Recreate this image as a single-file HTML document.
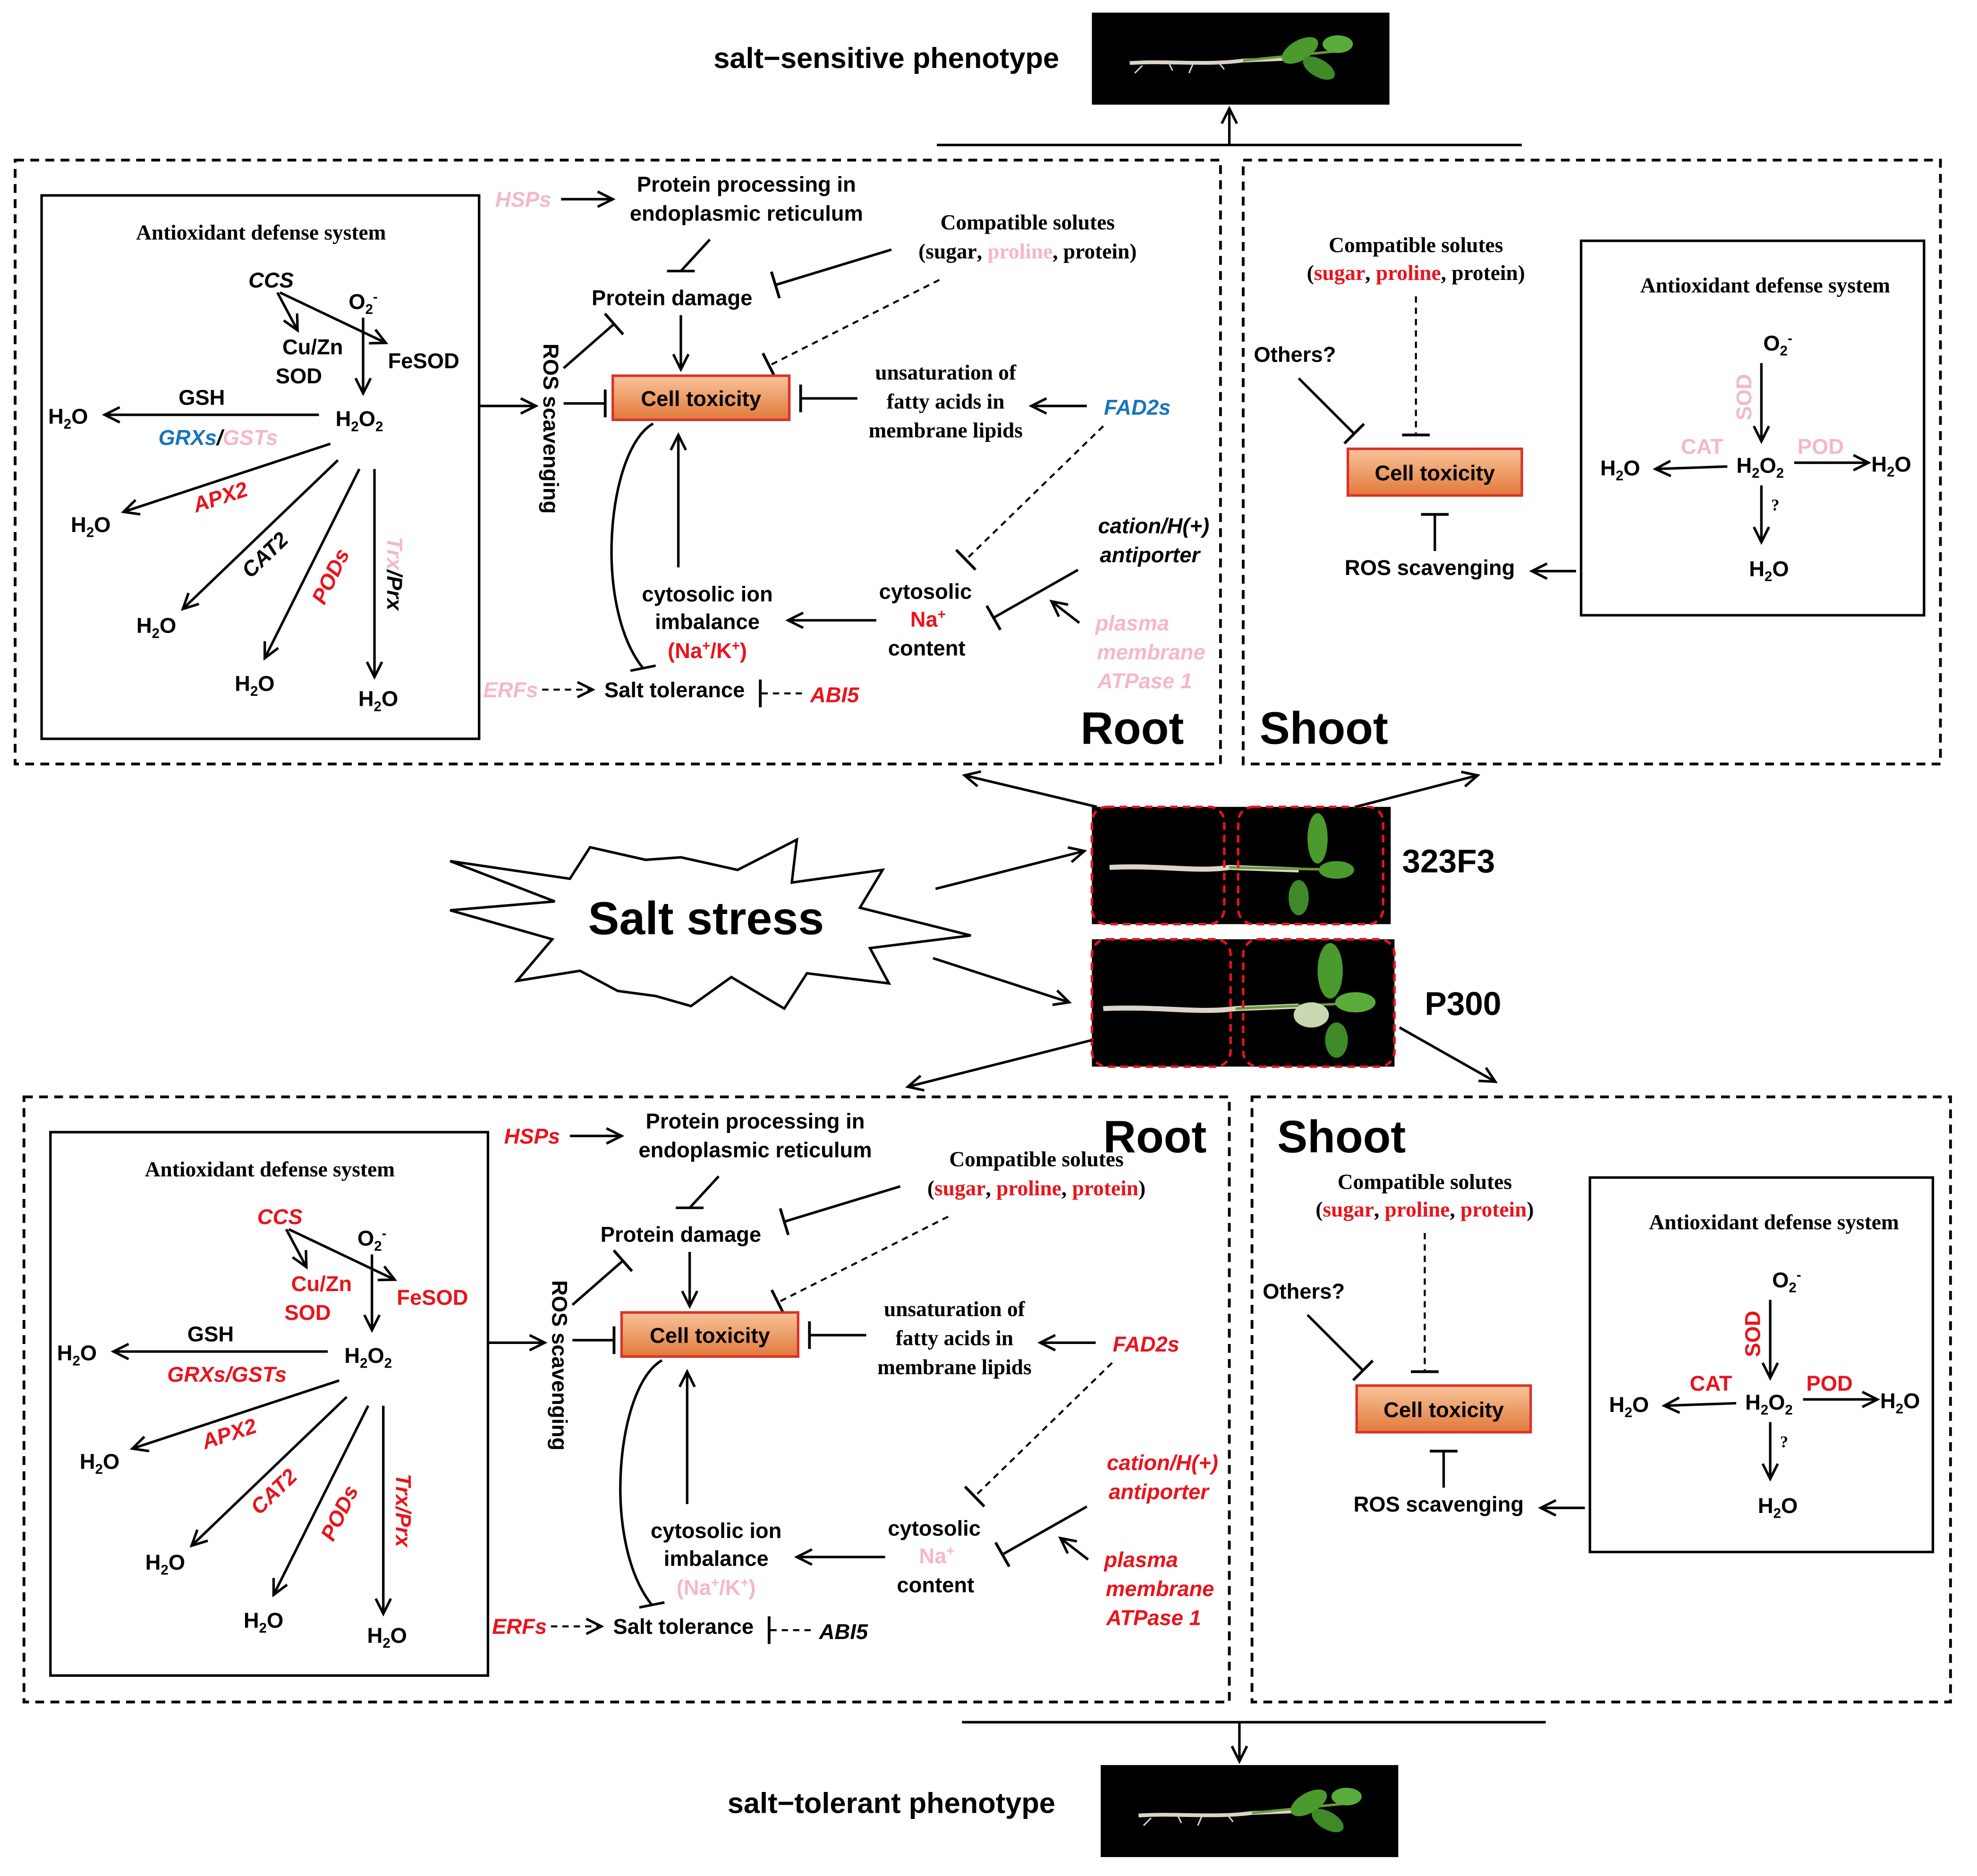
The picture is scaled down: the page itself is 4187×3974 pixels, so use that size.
<!DOCTYPE html>
<html><head><meta charset="utf-8"><style>
html,body{margin:0;padding:0;background:#fff}
svg{display:block}
.b{font-family:"Liberation Sans",sans-serif;font-weight:bold;font-size:17px}
.bi{font-family:"Liberation Sans",sans-serif;font-weight:bold;font-style:italic;font-size:17px}
.s{font-family:"Liberation Serif",serif;font-size:17px}
.sb{font-family:"Liberation Serif",serif;font-weight:bold;font-size:17px}
.ln{stroke:#000;stroke-width:2;fill:none}
.dl{stroke:#000;stroke-width:1.6;fill:none;stroke-dasharray:5,4}
.box{fill:none;stroke:#000;stroke-width:2}
.dbox{fill:none;stroke:#000;stroke-width:2.2;stroke-dasharray:7,5}
</style></head><body>
<svg width="4187" height="3974" viewBox="0 0 1568 1488" preserveAspectRatio="none" xmlns="http://www.w3.org/2000/svg">
<defs>
<marker id="a" markerUnits="userSpaceOnUse" markerWidth="16" markerHeight="16" refX="14" refY="8" orient="auto"><path d="M2,2 L14,8 L2,14" fill="none" stroke="#000" stroke-width="2"/></marker>
<marker id="t" markerUnits="userSpaceOnUse" markerWidth="4" markerHeight="22" refX="2" refY="11" orient="auto"><path d="M2,0 L2,22" stroke="#000" stroke-width="2.2"/></marker>
<linearGradient id="og" x1="0" y1="0" x2="0" y2="1"><stop offset="0" stop-color="#f8c49a"/><stop offset="1" stop-color="#e2793a"/></linearGradient>
<g id="plant">
<rect x="0" y="0" width="236" height="73" fill="#000"/>
<path d="M30,40 C60,38 90,42 120,38 L170,36" stroke="#ddd4c8" stroke-width="3" fill="none"/>
<path d="M40,42 l-6,6 M60,38 l4,8 M80,41 l-3,7 M100,39 l5,6" stroke="#ccc" stroke-width="1.2"/>
<path d="M120,38 L200,30" stroke="#6a9a3a" stroke-width="2"/>
<ellipse cx="165" cy="30" rx="16" ry="8" fill="#4a9a2e" transform="rotate(-30 165 30)"/>
<ellipse cx="180" cy="44" rx="14" ry="7" fill="#3e8a28" transform="rotate(30 180 44)"/>
<ellipse cx="195" cy="25" rx="12" ry="7" fill="#5aac3a"/>
</g>
<g id="panel">
<rect x="33" y="155" width="347" height="431" class="box"/>
<text x="207" y="190" class="sb" text-anchor="middle">Antioxidant defense system</text>
<text x="215" y="228" class="bi" text-anchor="middle" style="fill:var(--ccs)">CCS</text>
<text x="288" y="245" class="b" text-anchor="middle">O<tspan style="font-size:11px" dy="4">2</tspan><tspan style="font-size:11px" dy="-10">-</tspan></text>
<path d="M220,232 L236,262" class="ln" marker-end="url(#a)"/>
<path d="M222,232 L306,272" class="ln" marker-end="url(#a)"/>
<path d="M288,252 L288,312" class="ln" marker-end="url(#a)"/>
<text x="248" y="281" class="b" text-anchor="middle" style="fill:var(--sod)">Cu/Zn</text>
<text x="237" y="304" class="b" text-anchor="middle" style="fill:var(--sod)">SOD</text>
<text x="336" y="292" class="b" text-anchor="middle" style="fill:var(--fesod)">FeSOD</text>
<text x="285" y="338" class="b" text-anchor="middle">H<tspan style="font-size:11px" dy="4">2</tspan><tspan dy="-4">O</tspan><tspan style="font-size:11px" dy="4">2</tspan></text>
<text x="160" y="321" class="b" text-anchor="middle">GSH</text>
<path d="M253,329 L83,329" class="ln" marker-end="url(#a)"/>
<text x="54" y="336" class="b" text-anchor="middle">H<tspan style="font-size:11px" dy="4">2</tspan><tspan dy="-4">O</tspan></text>
<text x="173" y="353" class="bi" text-anchor="middle"><tspan style="fill:var(--grx)">GRXs</tspan><tspan style="fill:var(--sl)">/</tspan><tspan style="fill:var(--gst)">GSTs</tspan></text>
<path d="M262,352 L98,406" class="ln" marker-end="url(#a)"/>
<text x="175" y="400" class="bi" text-anchor="middle" fill="#e8141c" transform="rotate(-18 175 395)">APX2</text>
<text x="72" y="422" class="b" text-anchor="middle">H<tspan style="font-size:11px" dy="4">2</tspan><tspan dy="-4">O</tspan></text>
<path d="M268,365 L145,483" class="ln" marker-end="url(#a)"/>
<text x="210" y="446" class="bi" text-anchor="middle" style="fill:var(--cat2)" transform="rotate(-44 210 440)">CAT2</text>
<text x="124" y="502" class="b" text-anchor="middle">H<tspan style="font-size:11px" dy="4">2</tspan><tspan dy="-4">O</tspan></text>
<path d="M285,372 L210,522" class="ln" marker-end="url(#a)"/>
<text x="262" y="463" class="bi" text-anchor="middle" fill="#e8141c" transform="rotate(-64 262 457)">PODs</text>
<text x="202" y="548" class="b" text-anchor="middle">H<tspan style="font-size:11px" dy="4">2</tspan><tspan dy="-4">O</tspan></text>
<path d="M297,372 L297,537" class="ln" marker-end="url(#a)"/>
<text x="313" y="461" class="bi" text-anchor="middle" transform="rotate(90 313 455)"><tspan style="fill:var(--trx)">Trx</tspan><tspan style="fill:var(--prx)">/Prx</tspan></text>
<text x="300" y="560" class="b" text-anchor="middle">H<tspan style="font-size:11px" dy="4">2</tspan><tspan dy="-4">O</tspan></text>
<path d="M380,322 L425,322" class="ln" marker-end="url(#a)"/>
<text x="431" y="340" class="b" text-anchor="middle" transform="rotate(90 431 340)">ROS scavenging</text>
<path d="M447,292 L487,257" class="ln" marker-end="url(#t)"/>
<path d="M447,320 L480,320" class="ln" marker-end="url(#t)"/>
<text x="415" y="164" class="bi" text-anchor="middle" style="fill:var(--hsp)">HSPs</text>
<path d="M445,158 L486,158" class="ln" marker-end="url(#a)"/>
<text x="592" y="152" class="b" text-anchor="middle">Protein processing in</text>
<text x="592" y="175" class="b" text-anchor="middle">endoplasmic reticulum</text>
<path d="M563,190 L540,215" class="ln"/><path d="M529,215 L551,215" class="ln"/>
<text x="533" y="242" class="b" text-anchor="middle">Protein damage</text>
<text x="815" y="182" class="sb" text-anchor="middle">Compatible solutes</text>
<text x="815" y="205" class="sb" text-anchor="middle">(<tspan style="fill:var(--rsug)">sugar</tspan>, <tspan style="fill:var(--rpro)">proline</tspan>, <tspan style="fill:var(--rprot)">protein</tspan>)</text>
<path d="M707,198 L615,226" class="ln" marker-end="url(#t)"/>
<path d="M745,222 L610,290" class="dl" marker-end="url(#t)"/>
<path d="M540,250 L540,293" class="ln" marker-end="url(#a)"/>
<rect x="486" y="298" width="140" height="35" fill="url(#og)" stroke="#d8322a" stroke-width="2"/>
<text x="556" y="322" class="b" text-anchor="middle">Cell toxicity</text>
<text x="750" y="301" class="sb" text-anchor="middle">unsaturation of</text>
<text x="750" y="324" class="sb" text-anchor="middle">fatty acids in</text>
<text x="750" y="347" class="sb" text-anchor="middle">membrane lipids</text>
<path d="M680,316 L635,316" class="ln" marker-end="url(#t)"/>
<path d="M862,322 L818,322" class="ln" marker-end="url(#a)"/>
<text x="902" y="329" class="bi" text-anchor="middle" style="fill:var(--fad)">FAD2s</text>
<path d="M875,338 L766,444" class="dl" marker-end="url(#t)"/>
<text x="915" y="423" class="bi" text-anchor="middle" style="fill:var(--cat)">cation/H(+)</text>
<text x="912" y="446" class="bi" text-anchor="middle" style="fill:var(--cat)">antiporter</text>
<path d="M855,452 L788,490" class="ln" marker-end="url(#t)"/>
<path d="M856,494 L834,477" class="ln" marker-end="url(#a)"/>
<text x="898" y="500" class="bi" text-anchor="middle" style="fill:var(--pm)">plasma</text>
<text x="913" y="523" class="bi" text-anchor="middle" style="fill:var(--pm)">membrane</text>
<text x="908" y="546" class="bi" text-anchor="middle" style="fill:var(--pm)">ATPase 1</text>
<text x="734" y="475" class="b" text-anchor="middle">cytosolic</text>
<text x="736" y="497" class="b" text-anchor="middle" style="fill:var(--na)">Na<tspan style="font-size:11px" dy="-6">+</tspan></text>
<text x="735" y="520" class="b" text-anchor="middle">content</text>
<path d="M695,492 L625,492" class="ln" marker-end="url(#a)"/>
<text x="561" y="477" class="b" text-anchor="middle">cytosolic ion</text>
<text x="561" y="499" class="b" text-anchor="middle">imbalance</text>
<text x="561" y="522" class="b" text-anchor="middle" style="fill:var(--nak)">(Na<tspan style="font-size:11px" dy="-6">+</tspan><tspan dy="6">/K</tspan><tspan style="font-size:11px" dy="-6">+</tspan><tspan dy="6">)</tspan></text>
<path d="M538,450 L538,345" class="ln" marker-end="url(#a)"/>
<path d="M518,336 C482,356 470,480 510,530" class="ln"/><path d="M500,532 L520,528" class="ln"/>
<text x="405" y="553" class="bi" text-anchor="middle" style="fill:var(--erf)">ERFs</text>
<path d="M430,547 L470,547" class="dl" marker-end="url(#a)"/>
<text x="535" y="553" class="b" text-anchor="middle">Salt tolerance</text>
<path d="M636,550 L603,550" class="dl" marker-end="url(#t)"/>
<text x="662" y="557" class="bi" text-anchor="middle" style="fill:var(--abi)">ABI5</text>
<text x="1123" y="200" class="sb" text-anchor="middle">Compatible solutes</text>
<text x="1123" y="222" class="sb" text-anchor="middle">(<tspan fill="#e8141c">sugar</tspan>, <tspan fill="#e8141c">proline</tspan>, <tspan style="fill:var(--sprot)">protein</tspan>)</text>
<path d="M1123,235 L1123,345" class="dl" marker-end="url(#t)"/>
<text x="1027" y="287" class="b" text-anchor="middle">Others?</text>
<path d="M1030,300 L1074,344" class="ln" marker-end="url(#t)"/>
<rect x="1069" y="356" width="138" height="37" fill="url(#og)" stroke="#d8322a" stroke-width="2"/>
<text x="1138" y="381" class="b" text-anchor="middle">Cell toxicity</text>
<path d="M1138,437 L1138,408" class="ln" marker-end="url(#t)"/>
<text x="1134" y="456" class="b" text-anchor="middle">ROS scavenging</text>
<path d="M1250,453 L1215,453" class="ln" marker-end="url(#a)"/>
<rect x="1254" y="191" width="272" height="297" class="box"/>
<text x="1400" y="232" class="sb" text-anchor="middle">Antioxidant defense system</text>
<text x="1410" y="278" class="b" text-anchor="middle">O<tspan style="font-size:11px" dy="4">2</tspan><tspan style="font-size:11px" dy="-10">-</tspan></text>
<path d="M1397,288 L1397,350" class="ln" marker-end="url(#a)"/>
<text x="1383" y="321" class="b" text-anchor="middle" style="fill:var(--ssod)" transform="rotate(-90 1383 315)">SOD</text>
<text x="1396" y="375" class="b" text-anchor="middle">H<tspan style="font-size:11px" dy="4">2</tspan><tspan dy="-4">O</tspan><tspan style="font-size:11px" dy="4">2</tspan></text>
<text x="1350" y="360" class="b" text-anchor="middle" style="fill:var(--ssod)">CAT</text>
<path d="M1370,370 L1313,372" class="ln" marker-end="url(#a)"/>
<text x="1285" y="377" class="b" text-anchor="middle">H<tspan style="font-size:11px" dy="4">2</tspan><tspan dy="-4">O</tspan></text>
<text x="1444" y="360" class="b" text-anchor="middle" style="fill:var(--ssod)">POD</text>
<path d="M1423,367 L1482,367" class="ln" marker-end="url(#a)"/>
<text x="1500" y="374" class="b" text-anchor="middle">H<tspan style="font-size:11px" dy="4">2</tspan><tspan dy="-4">O</tspan></text>
<path d="M1397,385 L1397,430" class="ln" marker-end="url(#a)"/>
<text x="1408" y="405" class="sb" style="font-size:13px" text-anchor="middle">?</text>
<text x="1403" y="457" class="b" text-anchor="middle">H<tspan style="font-size:11px" dy="4">2</tspan><tspan dy="-4">O</tspan></text>
</g>
</defs>

<text x="703" y="54" class="b" style="font-size:23px" text-anchor="middle">salt−sensitive phenotype</text>
<use href="#plant" x="866" y="10"/>
<path d="M743,115 L1207,115" class="ln"/>
<path d="M975,115 L975,86" class="ln" marker-end="url(#a)"/>
<rect x="12" y="127" width="956" height="479" class="dbox"/>
<rect x="986" y="127" width="553" height="479" class="dbox"/>
<use href="#panel" style="--ccs:#000;--sod:#000;--fesod:#000;--grx:#1a75bb;--sl:#000;--gst:#f4b8c8;--cat2:#000;--trx:#f4b8c8;--prx:#000;--hsp:#f4b8c8;--rsug:#000;--rpro:#f4b8c8;--rprot:#000;--fad:#1a75bb;--cat:#000;--pm:#f4b8c8;--na:#e8141c;--nak:#e8141c;--erf:#f4b8c8;--abi:#e8141c;--sprot:#000;--ssod:#f4b8c8"/>
<text x="898" y="590" class="b" style="font-size:36px" text-anchor="middle">Root</text>
<text x="1050" y="590" class="b" style="font-size:36px" text-anchor="middle">Shoot</text>

<polygon points="357,683 452,697 468,672 512,682 540,680 585,690 632,666 628,700 700,690 682,720 770,742 690,752 705,780 640,772 622,800 580,775 548,798 520,790 490,786 460,770 410,778 438,745 357,722 440,715" fill="#fff" stroke="#000" stroke-width="2"/>
<text x="560" y="741" class="b" style="font-size:37px" text-anchor="middle">Salt stress</text>
<rect x="866" y="640" width="237" height="93" fill="#000"/>
<path d="M880,688 C920,686 950,692 975,688 L1030,690" stroke="#ddd4c8" stroke-width="4" fill="none"/>
<path d="M975,688 L1070,690" stroke="#6a9a3a" stroke-width="2"/>
<ellipse cx="1045" cy="665" rx="8" ry="20" fill="#4a9a2e"/>
<ellipse cx="1060" cy="690" rx="14" ry="7" fill="#4a9a2e"/>
<ellipse cx="1030" cy="712" rx="8" ry="14" fill="#3e8a28"/>
<rect x="866" y="640" width="105" height="93" rx="12" fill="none" stroke="#e8141c" stroke-width="2" stroke-dasharray="6,4"/>
<rect x="982" y="640" width="115" height="93" rx="12" fill="none" stroke="#e8141c" stroke-width="2" stroke-dasharray="6,4"/>
<text x="1112" y="692" class="b" style="font-size:26px">323F3</text>
<rect x="866" y="745" width="240" height="101" fill="#000"/>
<path d="M875,800 C920,798 950,804 980,800 L1030,798" stroke="#ddd4c8" stroke-width="4" fill="none"/>
<path d="M980,800 L1090,795" stroke="#6a9a3a" stroke-width="2"/>
<ellipse cx="1055" cy="770" rx="10" ry="22" fill="#4a9a2e"/>
<ellipse cx="1075" cy="795" rx="16" ry="8" fill="#5aac3a"/>
<ellipse cx="1040" cy="805" rx="14" ry="10" fill="#c8d8b0"/>
<ellipse cx="1060" cy="825" rx="9" ry="14" fill="#3e8a28"/>
<rect x="866" y="745" width="110" height="101" rx="12" fill="none" stroke="#e8141c" stroke-width="2" stroke-dasharray="6,4"/>
<rect x="986" y="745" width="120" height="101" rx="12" fill="none" stroke="#e8141c" stroke-width="2" stroke-dasharray="6,4"/>
<text x="1130" y="805" class="b" style="font-size:26px">P300</text>
<path d="M870,640 L765,615" class="ln" marker-end="url(#a)"/>
<path d="M1075,640 L1172,615" class="ln" marker-end="url(#a)"/>
<path d="M742,705 L860,675" class="ln" marker-end="url(#a)"/>
<path d="M740,760 L848,795" class="ln" marker-end="url(#a)"/>
<path d="M866,825 L720,862" class="ln" marker-end="url(#a)"/>
<path d="M1110,815 L1186,858" class="ln" marker-end="url(#a)"/>

<rect x="19" y="870" width="956" height="480" class="dbox"/>
<rect x="993" y="870" width="554" height="480" class="dbox"/>
<use href="#panel" transform="translate(7,743)" style="--ccs:#e8141c;--sod:#e8141c;--fesod:#e8141c;--grx:#e8141c;--sl:#e8141c;--gst:#e8141c;--cat2:#e8141c;--trx:#e8141c;--prx:#e8141c;--hsp:#e8141c;--rsug:#e8141c;--rpro:#e8141c;--rprot:#e8141c;--fad:#e8141c;--cat:#e8141c;--pm:#e8141c;--na:#f4b8c8;--nak:#f4b8c8;--erf:#e8141c;--abi:#000;--sprot:#e8141c;--ssod:#e8141c"/>
<text x="916" y="914" class="b" style="font-size:36px" text-anchor="middle">Root</text>
<text x="1064" y="914" class="b" style="font-size:36px" text-anchor="middle">Shoot</text>
<path d="M763,1366 L1226,1366" class="ln"/>
<path d="M983,1366 L983,1397" class="ln" marker-end="url(#a)"/>
<text x="707" y="1438" class="b" style="font-size:23px" text-anchor="middle">salt−tolerant phenotype</text>
<use href="#plant" x="873" y="1400"/>
</svg>
</body></html>
